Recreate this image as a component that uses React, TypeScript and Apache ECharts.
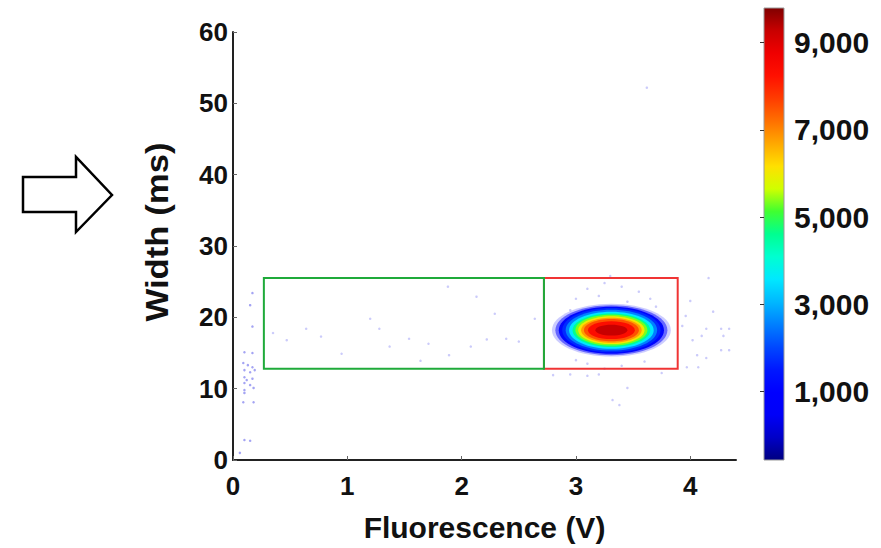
import React, { useEffect, useRef } from "react";
import * as echarts from "echarts";

const FONT = '"Liberation Sans", Arial, Helvetica, sans-serif';

const xTickLabels = [0, 1, 2, 3, 4];
const colorbarLabels = [1000, 3000, 5000, 7000, 9000];
const colorbarRange = [-573, 9794];
const jetColors = [
  "#000080", "#0000c8", "#0000f8", "#0000ff", "#0018ff", "#0048ff", "#0080ff",
  "#00b8ff", "#00e8ff", "#00ffd0", "#00ff90", "#40ff30", "#d0ff00", "#ffe000",
  "#ffa800", "#ff7000", "#ff3c00", "#ff1000", "#f00000", "#c80000", "#800000",
];

// main population (density levels, read as ellipses around the peak)
const blobCenter = [3.31, 18.2];
const levelCounts = [1000, 1000, 1100, 1700, 2540, 3570, 4610, 5330, 6060, 6790, 7510, 8340, 9270];
const levelRx = [0.52, 0.49, 0.46, 0.43, 0.4, 0.37, 0.34, 0.315, 0.29, 0.265, 0.24, 0.205, 0.14];
const levelRy = [3.7, 3.5, 3.3, 3.1, 2.85, 2.6, 2.35, 2.15, 1.95, 1.75, 1.55, 1.25, 0.75];

// gates [x0, y0, x1, y1]
const gateGreen = [0.27, 12.8, 2.72, 25.5];
const gateRed = [2.72, 12.8, 3.89, 25.5];

// sparse events
const sparsePoints = [
  [0.35, 17.8], [0.47, 16.8], [0.64, 18.4], [0.77, 17.3], [0.95, 14.9], [1.2, 19.8],
  [1.28, 18.4], [1.37, 15.9], [1.54, 17.0], [1.64, 13.9], [1.71, 16.3], [1.88, 24.3],
  [1.89, 14.7], [2.08, 15.9], [2.13, 22.9], [2.22, 16.9], [2.29, 20.5], [2.39, 17.0],
  [2.5, 16.6], [2.64, 19.8],
  [3.1, 24.0], [3.25, 24.8], [3.4, 24.3], [3.55, 23.6], [3.2, 23.0], [3.0, 22.6],
  [3.45, 22.2], [3.65, 22.6], [3.3, 25.8], [3.7, 21.5], [2.95, 21.0], [3.1, 13.5],
  [3.4, 13.2], [3.0, 14.0], [3.6, 13.8], [3.25, 12.8], [2.8, 11.9], [2.95, 12.0],
  [3.1, 11.8], [3.2, 12.0], [3.45, 10.1], [3.32, 8.4], [3.38, 7.7], [3.75, 12.2],
  [4.16, 25.5], [4.0, 22.3], [4.2, 20.8], [4.14, 18.4], [4.27, 18.4], [4.34, 18.4],
  [4.1, 17.4], [4.02, 16.8], [4.29, 17.4], [4.06, 14.7], [4.14, 14.3], [4.27, 15.4],
  [4.34, 15.4], [3.97, 13.0], [4.07, 13.0], [3.93, 18.8], [3.96, 20.2], [3.62, 52.2],
];
const axisPoints = [
  [0.1, 15.1], [0.17, 15.0], [0.09, 13.6], [0.13, 13.3], [0.17, 13.0], [0.1, 12.6],
  [0.15, 12.3], [0.19, 12.6], [0.1, 11.6], [0.12, 11.2], [0.17, 11.4], [0.1, 10.8],
  [0.15, 10.5], [0.1, 9.8], [0.18, 10.1], [0.1, 9.4], [0.09, 8.1], [0.18, 8.1],
  [0.1, 2.8], [0.15, 2.7], [0.06, 1.0], [0.17, 23.4], [0.15, 21.7], [0.17, 18.7],
];

const gateColors = ["#1faa3a", "#f03434"];

export default function App() {
  const ref = useRef<HTMLDivElement>(null);
  useEffect(() => {
    if (!ref.current) return;
    const chart = echarts.init(ref.current, undefined, { renderer: "svg" });
    const gradStops = jetColors.map((c, i) => ({ offset: i / (jetColors.length - 1), color: c }));
    const labelStyle = { fontSize: 26, fontWeight: "bold", color: "#111", fontFamily: FONT };
    const option: any = {
      animation: false,
      backgroundColor: "#ffffff",
      grid: [
        { left: 233, right: 145, top: 32, bottom: 88 },
        { left: 764, width: 20, top: 8, bottom: 88 },
      ],
      xAxis: [
        {
          type: "value", gridIndex: 0, min: 0, max: 4.4, interval: 1,
          name: "Fluorescence (V)", nameLocation: "middle", nameGap: 52,
          nameTextStyle: { fontSize: 30, fontWeight: "bold", color: "#111", fontFamily: FONT },
          axisLine: { show: true, onZero: false, lineStyle: { color: "#222", width: 2 } },
          axisTick: { show: true, inside: true, length: 4, lineStyle: { color: "#666" } },
          axisLabel: {
            ...labelStyle, margin: 13, showMaxLabel: false,
            formatter: (v: number) => (xTickLabels.includes(v) ? String(v) : ""),
          },
          splitLine: { show: false },
        },
        { type: "value", gridIndex: 1, min: 0, max: 1, show: false },
      ],
      yAxis: [
        {
          type: "value", gridIndex: 0, min: 0, max: 60, interval: 10,
          axisLine: { show: true, onZero: false, lineStyle: { color: "#222", width: 2 } },
          axisTick: { show: true, inside: true, length: 4, lineStyle: { color: "#666" } },
          axisLabel: { ...labelStyle, margin: 5 },
          splitLine: { show: false },
        },
        {
          type: "value", gridIndex: 1, min: colorbarRange[0], max: colorbarRange[1],
          position: "right", z: 10,
          axisLine: { show: false },
          axisTick: { show: true, inside: true, length: 4, customValues: colorbarLabels, lineStyle: { color: "#333" } },
          axisLabel: {
            ...labelStyle, fontSize: 30, margin: 10, customValues: colorbarLabels,
            formatter: (v: number) => v.toLocaleString("en-US"),
          },
          splitLine: { show: false },
        },
      ],
      visualMap: {
        type: "continuous", show: false, min: colorbarRange[0], max: colorbarRange[1],
        dimension: 4, seriesIndex: 1, inRange: { color: jetColors },
      },
      graphic: [
        {
          type: "polygon",
          shape: { points: [[23, 177], [76, 177], [76, 157], [112, 195], [76, 232], [76, 212], [23, 212]] },
          style: { fill: "#fff", stroke: "#000", lineWidth: 2.5 },
        },
        {
          type: "text", x: 157, y: 232, rotation: Math.PI / 2, scaleX: 1.12,
          style: {
            text: "Width (ms)", fontSize: 31, fontWeight: "bold", fontFamily: FONT, fill: "#111",
            align: "center", verticalAlign: "middle", textAlign: "center", textVerticalAlign: "middle",
          },
        },
      ],
      series: [
        {
          type: "scatter", xAxisIndex: 0, yAxisIndex: 0, data: sparsePoints,
          symbolSize: 2.5, itemStyle: { color: "#6a6af0", opacity: 0.35 }, z: 3,
        },
        {
          type: "custom", xAxisIndex: 0, yAxisIndex: 0, z: 4,
          data: levelCounts.map((c, i) => [blobCenter[0], blobCenter[1], levelRx[i], levelRy[i], c]),
          renderItem: (params: any, api: any) => {
            const c = api.coord([api.value(0), api.value(1)]);
            const s = api.size([api.value(2), api.value(3)]);
            const idx = params.dataIndex;
            return {
              type: "ellipse",
              shape: { cx: c[0], cy: c[1], rx: s[0], ry: s[1] },
              style: { fill: api.visual("color"), opacity: idx === 0 ? 0.2 : idx === 1 ? 0.5 : 1 },
            };
          },
        },
        {
          type: "custom", xAxisIndex: 0, yAxisIndex: 0, z: 5,
          data: [gateRed, gateGreen],
          renderItem: (params: any, api: any) => {
            const p1 = api.coord([api.value(0), api.value(3)]);
            const p2 = api.coord([api.value(2), api.value(1)]);
            return {
              type: "rect",
              shape: { x: p1[0], y: p1[1], width: p2[0] - p1[0], height: p2[1] - p1[1] },
              style: { fill: "none", stroke: gateColors[1 - params.dataIndex], lineWidth: 2 },
            };
          },
        },
        {
          type: "custom", xAxisIndex: 1, yAxisIndex: 1, z: 3,
          data: [[0, colorbarRange[0], 1, colorbarRange[1]]],
          renderItem: (params: any, api: any) => {
            const p1 = api.coord([api.value(0), api.value(3)]);
            const p2 = api.coord([api.value(2), api.value(1)]);
            return {
              type: "rect",
              shape: { x: p1[0], y: p1[1], width: p2[0] - p1[0], height: p2[1] - p1[1] },
              style: {
                fill: new echarts.graphic.LinearGradient(0, 1, 0, 0, gradStops),
                stroke: "#9a9a9a", lineWidth: 1,
              },
            };
          },
        },
        {
          type: "scatter", xAxisIndex: 0, yAxisIndex: 0, data: axisPoints,
          symbolSize: 2.5, itemStyle: { color: "#4a4ae8", opacity: 0.5 }, z: 3,
        },
      ],
    };
    chart.setOption(option);
    return () => chart.dispose();
  }, []);
  return <div ref={ref} style={{ position: "absolute", left: 0, top: 0, width: 881, height: 548 }} />;
}
